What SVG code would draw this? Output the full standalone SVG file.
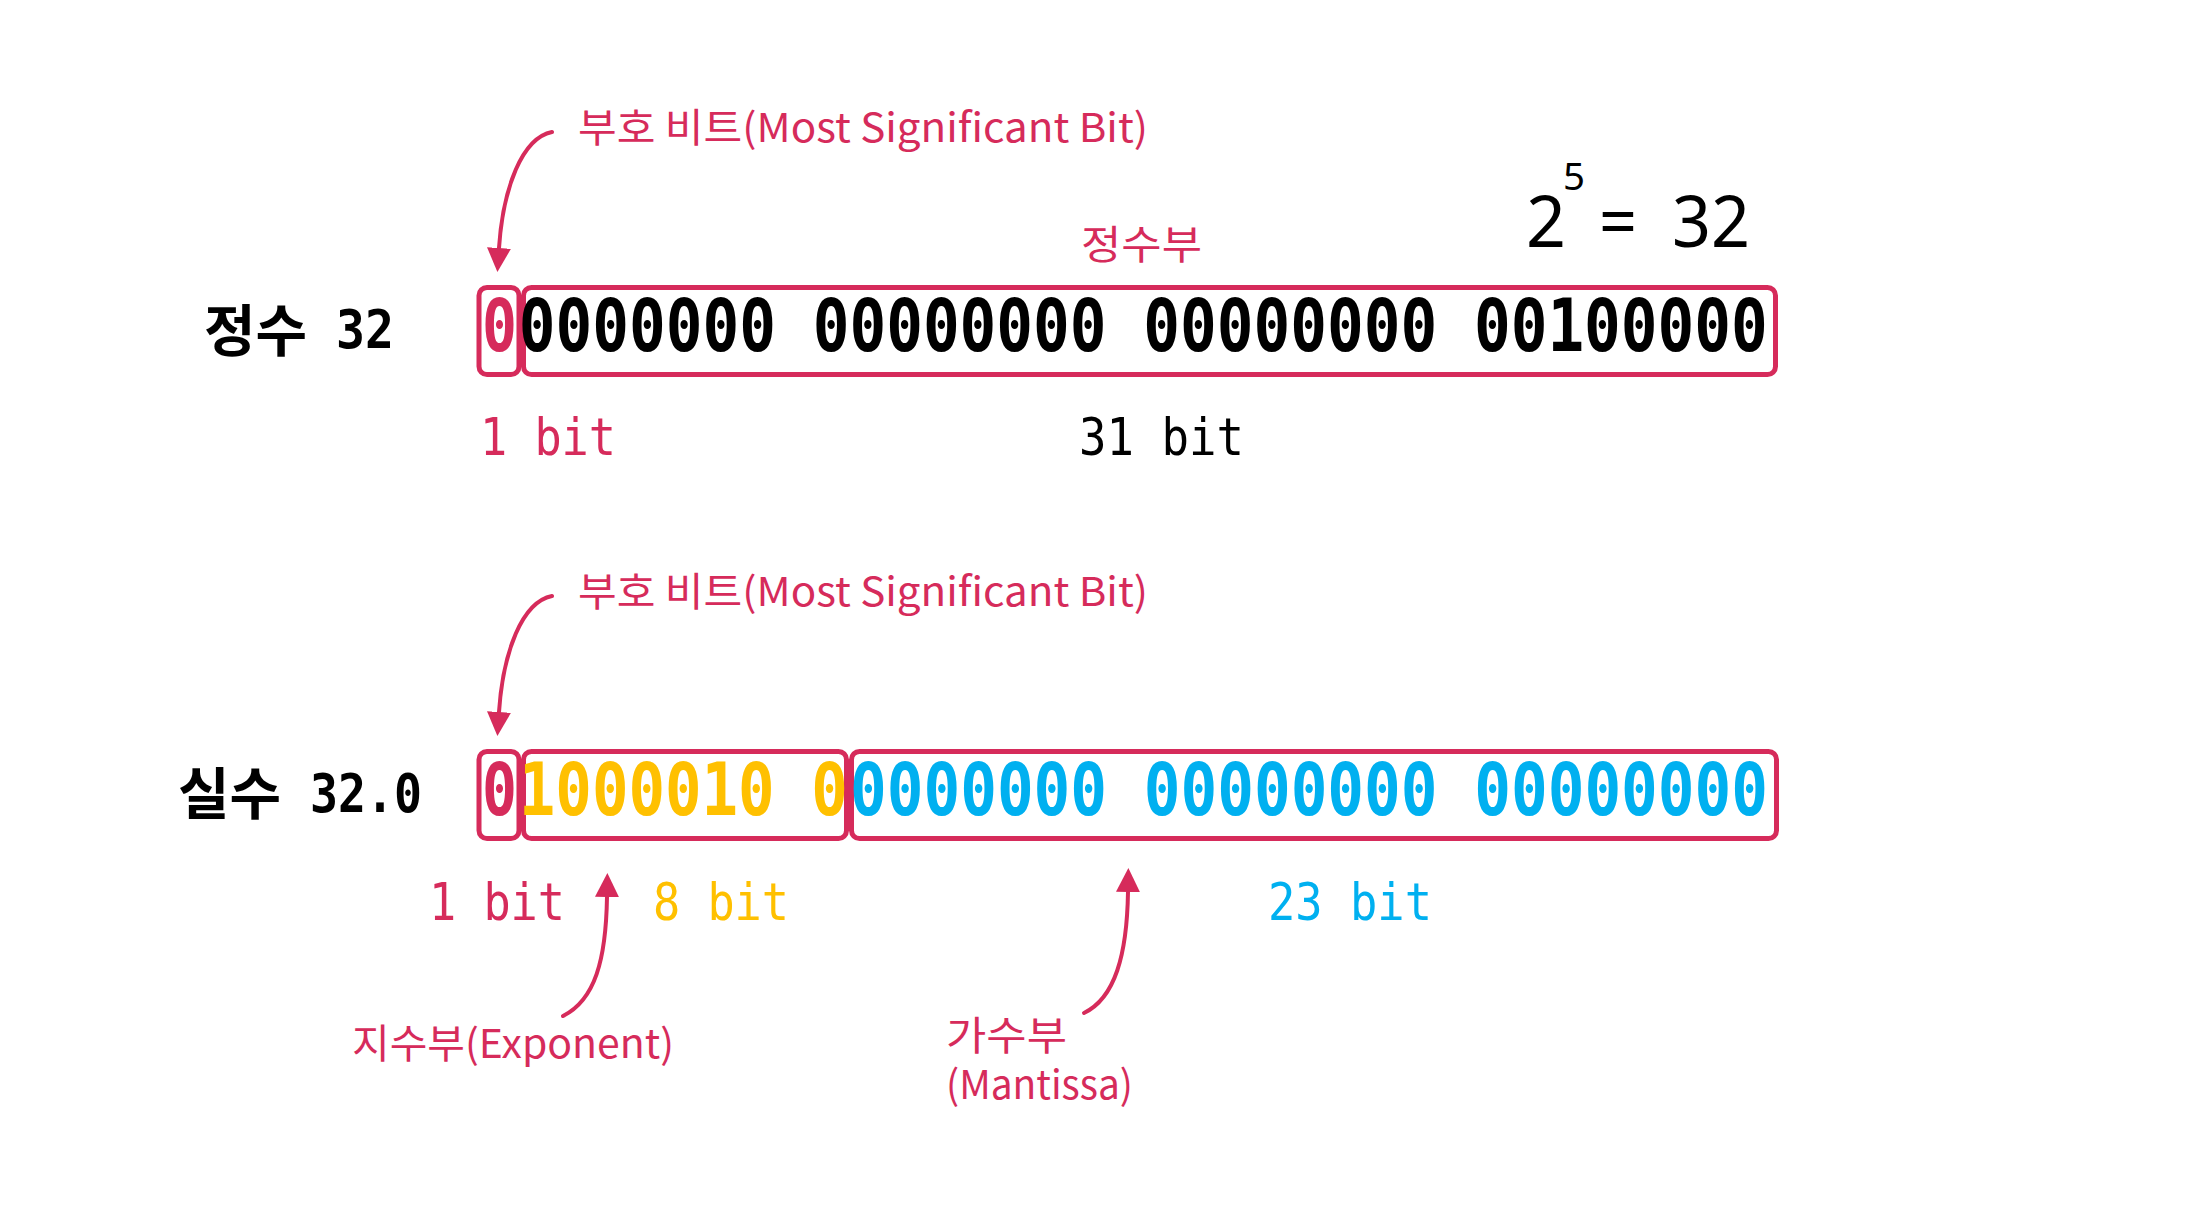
<svg xmlns="http://www.w3.org/2000/svg" width="2194" height="1228" viewBox="0 0 2194 1228">
<style>
.box{fill:none;stroke:#D62B5B;stroke-width:5}
.lbl{font-family:"Noto Sans CJK KR","Noto Sans",sans-serif;font-size:40px;fill:#D62B5B}
.bits{font-family:"DejaVu Sans Mono","Liberation Mono",monospace;font-weight:bold;font-size:73px}
.mono{font-family:"DejaVu Sans Mono","Liberation Mono",monospace;font-size:52px}
.title{font-family:"Noto Sans CJK KR",sans-serif;font-weight:bold;font-size:56px;fill:#000}
.tnum{font-family:"DejaVu Sans Mono",monospace;font-weight:bold;font-size:54px;fill:#000}
.eq{font-family:"Noto Sans","Noto Sans CJK KR",sans-serif;fill:#000}
.conn{fill:none;stroke:#D62B5B;stroke-width:4;stroke-linecap:round}
.red{fill:#D62B5B}.yel{fill:#FFC000}.blu{fill:#00B0F0}.blk{fill:#000}
</style>
<defs>
<marker id="ah" viewBox="0 0 10 10" refX="0" refY="5" markerUnits="userSpaceOnUse" markerWidth="24" markerHeight="24" orient="auto">
<path d="M0,0 L10,5 L0,10 z" fill="#D62B5B"/>
</marker>
</defs>
<rect width="2194" height="1228" fill="#fff"/>

<g id="int-row">
<text class="title" x="204" y="351">정수</text>
<text class="tnum" x="336" y="348" textLength="58" lengthAdjust="spacingAndGlyphs">32</text>
<rect class="box" x="479" y="287.5" width="40" height="87" rx="8"/>
<rect class="box" x="523.5" y="287.5" width="1252" height="87" rx="8"/>
<text class="bits red" x="482" y="351" textLength="35" lengthAdjust="spacingAndGlyphs">0</text>
<text class="bits blk" x="518.8" y="351" textLength="1249" lengthAdjust="spacingAndGlyphs">0000000 00000000 00000000 00100000</text>
</g>

<g id="int-labels">
<text class="lbl" x="578" y="142" textLength="570" lengthAdjust="spacingAndGlyphs">부호 비트(Most Significant Bit)</text>
<text class="lbl" x="1081" y="259" textLength="121" lengthAdjust="spacingAndGlyphs">정수부</text>
<text class="mono red" x="480" y="455" textLength="136" lengthAdjust="spacingAndGlyphs">1 bit</text>
<text class="mono blk" x="1079" y="455" textLength="165" lengthAdjust="spacingAndGlyphs">31 bit</text>
</g>

<g id="power">
<text class="eq" x="1526" y="247" font-size="72" textLength="40" lengthAdjust="spacingAndGlyphs">2</text>
<text class="eq" x="1563" y="190" font-size="38" textLength="22" lengthAdjust="spacingAndGlyphs">5</text>
<text class="eq" x="1599" y="247" font-size="72" textLength="38" lengthAdjust="spacingAndGlyphs">=</text>
<text class="eq" x="1672" y="247" font-size="72" textLength="78" lengthAdjust="spacingAndGlyphs">32</text>
</g>

<g id="float-row">
<text class="title" x="178" y="814">실수</text>
<text class="tnum" x="310" y="812" textLength="112" lengthAdjust="spacingAndGlyphs">32.0</text>
<rect class="box" x="479" y="751.5" width="40" height="87" rx="8"/>
<rect class="box" x="523.5" y="751.5" width="323" height="87" rx="8"/>
<rect class="box" x="851.5" y="751.5" width="925" height="87" rx="8"/>
<text class="bits red" x="482" y="815" textLength="35" lengthAdjust="spacingAndGlyphs">0</text>
<text class="bits yel" x="518.8" y="815" textLength="329" lengthAdjust="spacingAndGlyphs">1000010 0</text>
<text class="bits blu" x="850" y="815" textLength="918" lengthAdjust="spacingAndGlyphs">0000000 00000000 00000000</text>
</g>

<g id="float-labels">
<text class="lbl" x="578" y="606" textLength="570" lengthAdjust="spacingAndGlyphs">부호 비트(Most Significant Bit)</text>
<text class="mono red" x="429" y="920" textLength="136" lengthAdjust="spacingAndGlyphs">1 bit</text>
<text class="mono yel" x="653" y="920" textLength="136" lengthAdjust="spacingAndGlyphs">8 bit</text>
<text class="mono blu" x="1268" y="920" textLength="164" lengthAdjust="spacingAndGlyphs">23 bit</text>
<text class="lbl" x="352" y="1058" textLength="322" lengthAdjust="spacingAndGlyphs">지수부(Exponent)</text>
<text class="lbl" x="946" y="1050" textLength="121" lengthAdjust="spacingAndGlyphs">가수부</text>
<text class="lbl" x="946" y="1099" textLength="187" lengthAdjust="spacingAndGlyphs">(Mantissa)</text>
</g>

<g id="connectors">
<path class="conn" d="M552,132 C522,138 503,188 499,248" marker-end="url(#ah)"/>
<path class="conn" d="M552,596 C522,602 503,652 499,712" marker-end="url(#ah)"/>
<path class="conn" d="M563,1016 C595,1000 606,960 607,897" marker-end="url(#ah)"/>
<path class="conn" d="M1084,1013 C1115,998 1127,955 1128,892" marker-end="url(#ah)"/>
</g>
</svg>
